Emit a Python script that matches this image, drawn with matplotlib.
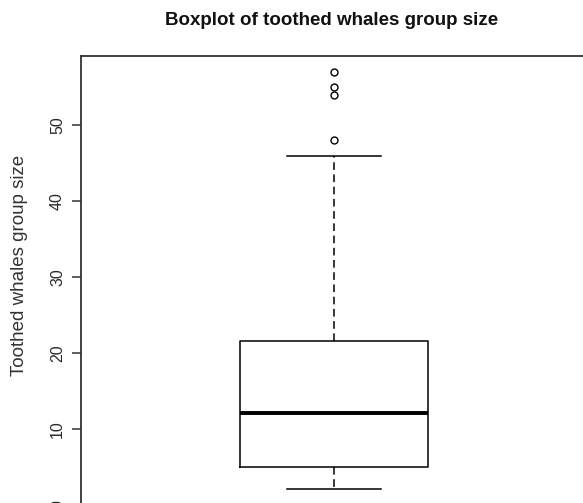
import matplotlib
matplotlib.use('Agg')
import matplotlib.pyplot as plt

# five-number summary of group sizes, plus the outlying groups
lower_whisker = 2
q1 = 5
median = 12
q3 = 21.5
upper_whisker = 46
outliers = [48, 54, 55, 57]

y_ticks = [0, 10, 20, 30, 40, 50]
y_tick_labels = ['0', '10', '20', '30', '40', '50']

plt.rcParams['font.family'] = ['Liberation Sans', 'DejaVu Sans']

fig = plt.figure(figsize=(5.83, 5.03), dpi=100)
ax = fig.add_axes([0.139, -0.006, 0.868, 0.8956])

stats = [dict(whislo=lower_whisker, q1=q1, med=median, q3=q3,
              whishi=upper_whisker, fliers=outliers)]

ax.bxp(stats, positions=[1], widths=0.37, showfliers=True,
       boxprops=dict(color='black', linewidth=1.1),
       medianprops=dict(color='black', linewidth=2.8, solid_capstyle='butt'),
       whiskerprops=dict(color='black', linewidth=1.1, linestyle=(0, (5, 3))),
       capprops=dict(color='black', linewidth=1.1),
       capwidths=0.186,
       flierprops=dict(marker='o', markersize=5, markerfacecolor='none',
                       markeredgecolor='black', markeredgewidth=1.0))

ax.set_xlim(0.5, 1.5)
ax.set_ylim(-0.2, 59.2)
ax.set_xticks([])
ax.set_yticks(y_ticks)
ax.set_yticklabels(y_tick_labels, rotation=90, va='center')
ax.tick_params(axis='y', direction='out', length=6.5, width=1.1, pad=5,
               labelsize=11.5, color='#333333', labelcolor='#2a2a2a')

for side in ['left', 'top', 'right', 'bottom']:
    ax.spines[side].set_linewidth(1.3)
    ax.spines[side].set_color('#333333')

fig.text(0.034, 0.473, 'Toothed whales group size', rotation=90, ha='center', va='center',
         fontsize=13.5, color='#333333')
fig.text(0.569, 0.96, 'Boxplot of toothed whales group size', ha='center', va='center',
         fontsize=13.5, fontweight='bold', color='#111111')

fig.savefig('out.png', dpi=100)
